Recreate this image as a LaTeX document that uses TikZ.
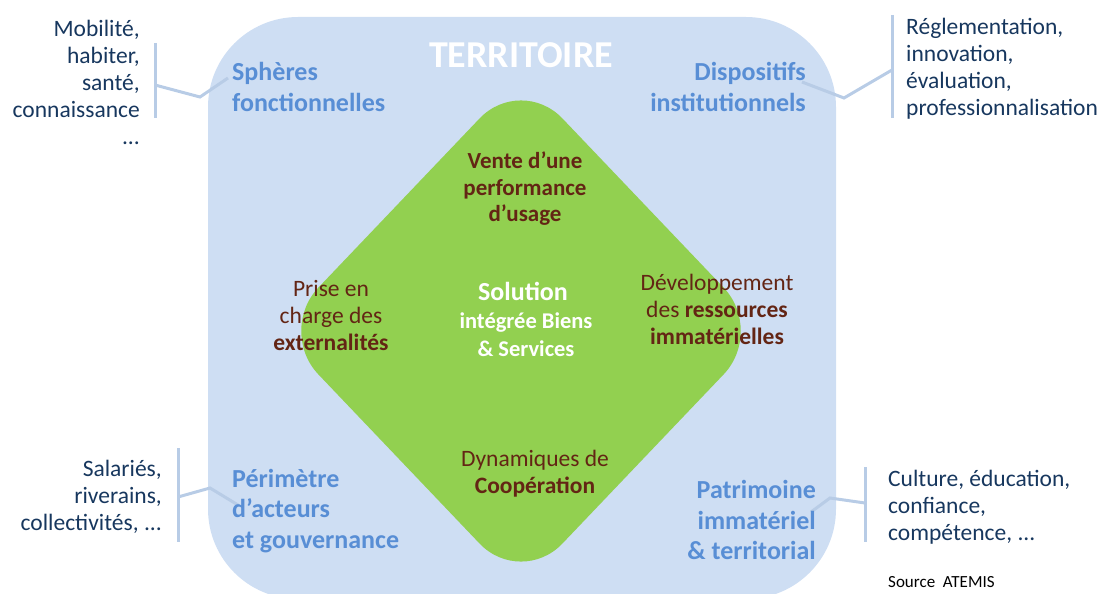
\documentclass[tikz,border=0pt]{standalone}
\usepackage{fontspec}
\setmainfont{Carlito}
\definecolor{bgblue}{RGB}{206,222,243}
\definecolor{dgreen}{RGB}{146,208,80}
\definecolor{lblue}{RGB}{88,142,213}
\definecolor{dred}{RGB}{99,37,20}
\definecolor{navy}{RGB}{23,55,94}
\definecolor{lineblue}{RGB}{184,204,230}
\begin{document}
\begin{tikzpicture}[x=1pt,y=-1pt,
  navytxt/.style={text=navy, font=\fontsize{23.5}{27}\selectfont, inner sep=0pt},
  bluelbl/.style={text=lblue, font=\bfseries\fontsize{26}{30.5}\selectfont, inner sep=0pt},
  redtxt/.style={text=dred, font=\fontsize{23.5}{27}\selectfont, inner sep=0pt, align=center},
  whitetxt/.style={text=white, inner sep=0pt, align=center},
  leader/.style={draw=lineblue, line width=3pt}]
\useasboundingbox (0,0) rectangle (1109,594);
\clip (0,0) rectangle (1109,594);
% territory background
\fill[bgblue, rounded corners=90pt] (208,17) rectangle (836,599);
% green diamond
\fill[dgreen, rounded corners=60pt] (521,75) -- (765,331) -- (521,587) -- (277,331) -- cycle;

% leader coordinates
\coordinate (tlTop) at (155,43);   \coordinate (tlBot) at (155,118);
\coordinate (tlJoin) at (155,85);  \coordinate (tlElb) at (200,97);  \coordinate (tlTip) at (228,78);
\coordinate (trTop) at (892,15);   \coordinate (trBot) at (892,118);
\coordinate (trJoin) at (892,70);  \coordinate (trElb) at (844,98);  \coordinate (trTip) at (802,82);
\coordinate (blTop) at (178,448);  \coordinate (blBot) at (178,542);
\coordinate (blJoin) at (178,497); \coordinate (blElb) at (210,488); \coordinate (blTip) at (238,505);
\coordinate (brTop) at (865,467);  \coordinate (brBot) at (865,542);
\coordinate (brJoin) at (865,503); \coordinate (brElb) at (830,498); \coordinate (brTip) at (811,512);

\draw[leader] (tlTop) -- (tlBot);
\draw[leader] (tlJoin) -- (tlElb) -- (tlTip);
\draw[leader] (trTop) -- (trBot);
\draw[leader] (trJoin) -- (trElb) -- (trTip);
\draw[leader] (blTop) -- (blBot);
\draw[leader] (blJoin) -- (blElb) -- (blTip);
\draw[leader] (brTop) -- (brBot);
\draw[leader] (brJoin) -- (brElb) -- (brTip);

% title
\node[whitetxt, font=\bfseries\fontsize{38}{44}\selectfont] (terr) at (521,55) {TERRITOIRE};

% blue labels
\node[bluelbl, align=left, anchor=west] (spheres) at (232,87) {Sphères\\fonctionnelles};
\node[bluelbl, align=right, anchor=east] (dispo) at (806,87) {Dispositifs\\institutionnels};
\node[bluelbl, align=left, anchor=west] (perim) at (232,511) {Périmètre\\d’acteurs\\et gouvernance};
\node[bluelbl, align=right, anchor=east] (patri) at (816,520) {Patrimoine\\immatériel\\\& territorial};

% outside lists
\node[navytxt, align=right, anchor=east] (list1) at (140,82) {Mobilité,\\habiter,\\santé,\\connaissance\\...};
\node[navytxt, align=left, anchor=west] (list2) at (906,69) {Réglementation,\\innovation,\\évaluation,\\professionnalisation};
\node[navytxt, align=right, anchor=east] (list3) at (162,497) {Salariés,\\riverains,\\collectivités, ...};
\node[navytxt, align=left, anchor=west] (list4) at (888,507) {Culture, éducation,\\confiance,\\compétence, ...};
\node[text=black, font=\fontsize{17}{20}\selectfont, inner sep=0pt, anchor=west] (source) at (888,582) {Source~~ATEMIS};

% diamond texts
\node[redtxt, font=\bfseries\fontsize{23}{26.5}\selectfont] (vente) at (525,189) {Vente d’une\\performance\\d’usage};
\node[redtxt] (prise) at (331,315) {Prise en\\charge des\\\textbf{externalités}};
\node[redtxt] (devel) at (717,309) {Développement\\des \textbf{ressources}\\\textbf{immatérielles}};
\node[redtxt] (dyna) at (535,474) {Dynamiques de\\\textbf{Coopération}};
\node[whitetxt, font=\bfseries\fontsize{26}{30}\selectfont] (sol) at (523,291) {Solution};
\node[whitetxt, font=\bfseries\fontsize{22.5}{28}\selectfont] (integ) at (526,335) {intégrée Biens\\\& Services};
\end{tikzpicture}
\end{document}
